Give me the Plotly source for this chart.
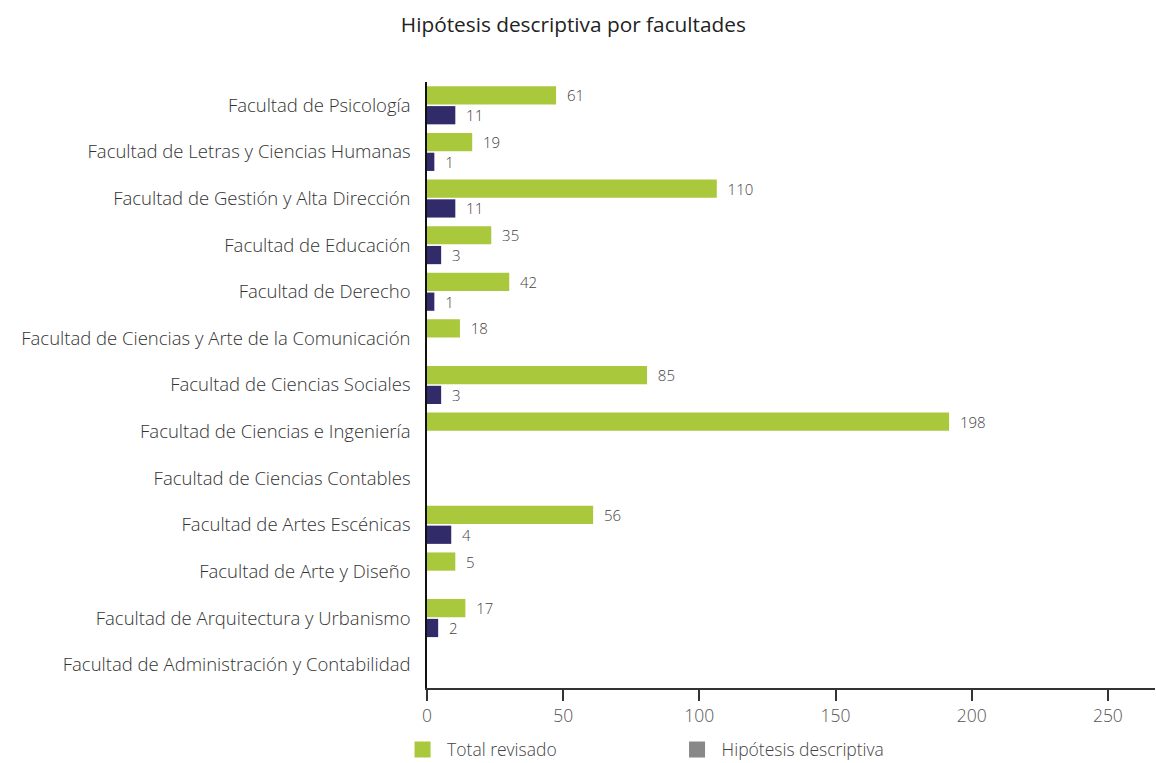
import plotly.graph_objects as go

categorias = [
    "Facultad de Psicología",
    "Facultad de Letras y Ciencias Humanas",
    "Facultad de Gestión y Alta Dirección",
    "Facultad de Educación",
    "Facultad de Derecho",
    "Facultad de Ciencias y Arte de la Comunicación",
    "Facultad de Ciencias Sociales",
    "Facultad de Ciencias e Ingeniería",
    "Facultad de Ciencias Contables",
    "Facultad de Artes Escénicas",
    "Facultad de Arte y Diseño",
    "Facultad de Arquitectura y Urbanismo",
    "Facultad de Administración y Contabilidad",
]

# Bar lengths as drawn in the picture
total_revisado = [47.4, 16.6, 106.4, 23.6, 30.2, 12.1, 80.8, 191.7, None, 61.0, 10.4, 14.1, None]
hipotesis = [10.4, 2.7, 10.4, 5.2, 2.7, None, 5.2, None, None, 8.9, None, 4.1, None]

# Printed value labels
total_labels = ["61", "19", "110", "35", "42", "18", "85", "198", "", "56", "5", "17", ""]
hipotesis_labels = ["11", "1", "11", "3", "1", "", "3", "", "", "4", "", "2", ""]

x_ticks = [0, 50, 100, 150, 200, 250]

series_names = ["Total revisado", "Hipótesis descriptiva"]
legend_colors = ["#a9c83c", "#888888"]

GREEN = "#a9c83c"
NAVY = "#312b6a"
FONT = "Open Sans"
TXT = dict(family=FONT, size=15, color="#444", weight=300)

pad = "\u00a0\u00a0"

fig = go.Figure()
fig.add_trace(go.Bar(
    y=categorias, x=total_revisado, orientation="h", name=series_names[0],
    marker=dict(color=GREEN, line=dict(width=0)),
    text=[pad + t if t else "" for t in total_labels], textposition="outside",
    constraintext="none", textfont=TXT, cliponaxis=False, showlegend=False,
))
fig.add_trace(go.Bar(
    y=categorias, x=hipotesis, orientation="h", name=series_names[1],
    marker=dict(color=NAVY, line=dict(width=0)),
    text=[pad + t if t else "" for t in hipotesis_labels], textposition="outside",
    constraintext="none", textfont=TXT, cliponaxis=False, showlegend=False,
))
# legend entries (square swatches; the second one is grey in the original)
for nm, col in zip(series_names, legend_colors):
    fig.add_trace(go.Scatter(
        x=[None], y=[None], mode="markers", name="\u00a0" + nm,
        marker=dict(symbol="square", size=20, color=col), showlegend=True,
    ))

fig.update_layout(
    width=1156, height=763,
    paper_bgcolor="white", plot_bgcolor="white",
    margin=dict(l=427, r=1, t=82, b=75, autoexpand=False),
    barmode="group", bargap=0.15, bargroupgap=0.08,
    title=dict(text="Hipótesis descriptiva por facultades", x=0.496, xanchor="center",
               y=0.968, yanchor="middle",
               font=dict(family=FONT, size=20.8, color="#222", weight=400)),
    font=dict(family=FONT, color="#444"),
    showlegend=True,
    legend=dict(orientation="h", x=-0.0336, xanchor="left", y=-0.072, yanchor="top",
                font=dict(family=FONT, size=17.5, color="#444", weight=300),
                entrywidth=229.5, entrywidthmode="pixels",
                traceorder="normal"),
    xaxis=dict(range=[0, 267.3], tickvals=x_ticks, showgrid=False, zeroline=False,
               automargin=False,
               showline=True, linecolor="#333", linewidth=1.5,
               ticks="outside", ticklen=11, tickwidth=1.5, tickcolor="#333",
               tickfont=dict(family=FONT, size=17.5, color="#555", weight=300)),
    yaxis=dict(autorange="reversed", showgrid=False, zeroline=False,
               automargin=False,
               showline=True, linecolor="#111", linewidth=1.5,
               ticks="", ticklabelstandoff=11,
               tickfont=dict(family=FONT, size=18.5, color="#333", weight=300)),
)

fig.write_html(
    "out.html",
    config={"displayModeBar": False},
    post_script="document.body.style.margin='0';document.body.style.padding='0';"
                "document.body.style.overflow='hidden';",
)
